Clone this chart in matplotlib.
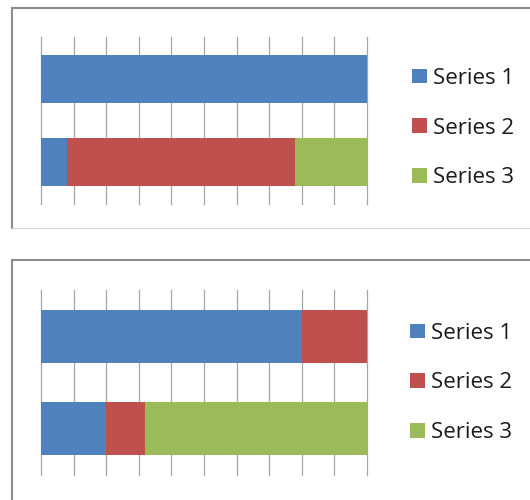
import matplotlib
matplotlib.use("Agg")
import matplotlib.pyplot as plt
from matplotlib.patches import Patch
from matplotlib.lines import Line2D

plt.rcParams['font.family'] = ['Open Sans', 'DejaVu Sans']

# data
series_names = ["Series 1", "Series 2", "Series 3"]
colors = ["#4F81BD", "#C0504D", "#9BBB59"]

# top chart: [upper bar, lower bar]
top_s1 = [100, 8]
top_s2 = [0, 70]
top_s3 = [0, 22]

# bottom chart
bot_s1 = [80, 20]
bot_s2 = [20, 12]
bot_s3 = [0, 68]

W, H = 530, 500
fig = plt.figure(figsize=(W / 100, H / 100), dpi=100)


def fx(x):
    return x / W


def fy(y):
    return 1 - y / H


def line(x0, y0, x1, y1, color, lw):
    fig.add_artist(Line2D([fx(x0), fx(x1)], [fy(y0), fy(y1)],
                          transform=fig.transFigure, color=color, lw=lw))


def stacked(ax, s1, s2, s3):
    pos = [0, 1]
    left = [0, 0]
    for vals, c in zip([s1, s2, s3], colors):
        ax.barh(pos, vals, left=left, height=0.575, color=c, zorder=3)
        left = [a + b for a, b in zip(left, vals)]
    ax.set_xlim(0, 100)
    ax.set_ylim(1.5, -0.5)
    ax.set_xticks(range(0, 101, 10))
    ax.grid(axis='x', color='#A6A6A6', lw=0.9, zorder=0)
    for gl in ax.get_xgridlines():
        gl.set_clip_on(False)
    ax.tick_params(left=False, bottom=False, labelleft=False, labelbottom=False)
    for sp in ax.spines.values():
        sp.set_visible(False)


def legend(x, y):
    handles = [Patch(facecolor=c, edgecolor='none') for c in colors]
    fig.legend(handles, series_names, loc='center left',
               bbox_to_anchor=(fx(x), fy(y)), frameon=False,
               fontsize=16, handlelength=0.68, handleheight=0.63,
               handletextpad=0.27, borderpad=0, borderaxespad=0,
               labelspacing=1.3, labelcolor='#1a1a1a')


# top panel
line(12, 8, 530, 8, '#8C8C8C', 1.5)
line(12, 8, 12, 228, '#8C8C8C', 1.5)
line(12, 228, 530, 228, '#D4D4D4', 0.8)
ax1 = fig.add_axes([fx(41), fy(204), fx(367) - fx(41), (204 - 37) / H])
stacked(ax1, top_s1, top_s2, top_s3)
legend(412, 128)

# bottom panel
line(12, 260, 530, 260, '#8C8C8C', 1.5)
line(12, 260, 12, 500, '#8C8C8C', 1.5)
ax2 = fig.add_axes([fx(41), fy(475), fx(367) - fx(41), (475 - 290) / H])
stacked(ax2, bot_s1, bot_s2, bot_s3)
legend(410, 383)

fig.savefig("out.png", dpi=100)
